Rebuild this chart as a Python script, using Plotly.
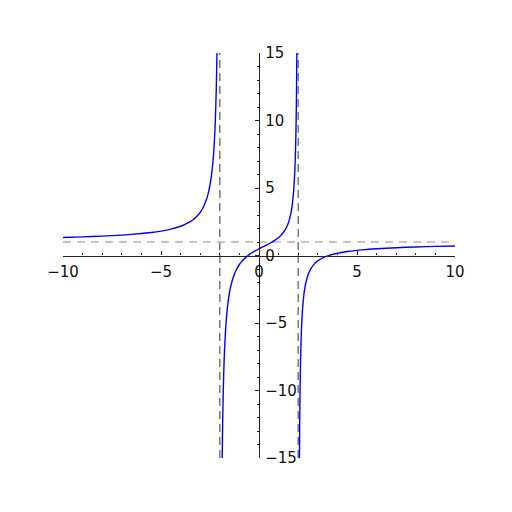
import plotly.graph_objects as go

# Branch left of x = -2
left_x = [-10, -9, -8, -7, -6, -5.5, -5, -4.5, -4, -3.8, -3.6, -3.5, -3.4, -3.2, -3.1, -3,
          -2.9, -2.8, -2.7, -2.6, -2.55, -2.5, -2.45, -2.4, -2.35, -2.325, -2.3, -2.275,
          -2.25, -2.225, -2.2, -2.185, -2.17, -2.16, -2.145]
left_y = [1.333, 1.377, 1.433, 1.511, 1.625, 1.705, 1.810, 1.954, 2.167, 2.284, 2.429, 2.515,
          2.614, 2.859, 3.014, 3.2, 3.426, 3.708, 4.070, 4.551, 4.856, 5.222, 5.669, 6.227,
          6.944, 7.385, 7.899, 8.507, 9.235, 10.126, 11.238, 12.050, 13.004, 13.740, 15.0]

# Branch between x = -2 and x = 2
mid_x = [-1.877, -1.86, -1.85, -1.825, -1.8, -1.775, -1.75, -1.7, -1.65, -1.6, -1.55, -1.5,
         -1.4, -1.3, -1.2, -1.1, -1.0, -0.9, -0.8, -0.6, -0.4, -0.2, 0, 0.2, 0.4, 0.6, 0.8,
         1.0, 1.1, 1.2, 1.3, 1.4, 1.45, 1.5, 1.55, 1.6, 1.65, 1.7, 1.725, 1.75, 1.775, 1.8,
         1.825, 1.85, 1.865, 1.88, 1.89, 1.9, 1.915, 1.923, 1.931]
mid_y = [-15.0, -13.027, -12.07, -10.167, -8.737, -7.624, -6.733, -5.396, -4.440, -3.722,
         -3.163, -2.714, -2.039, -1.554, -1.188, -0.900, -0.667, -0.473, -0.310, -0.044,
         0.167, 0.343, 0.5, 0.646, 0.792, 0.945, 1.119, 1.333, 1.466, 1.625, 1.823, 2.078,
         2.238, 2.429, 2.659, 2.944, 3.309, 3.793, 4.099, 4.467, 4.914, 5.474, 6.191, 7.147,
         7.890, 8.818, 9.577, 10.487, 12.253, 13.476, 15.0]

# Branch right of x = 2
right_x = [2.064, 2.07, 2.08, 2.09, 2.1, 2.125, 2.15, 2.175, 2.2, 2.25, 2.3, 2.35, 2.4, 2.5,
           2.6, 2.75, 2.9, 3, 3.25, 3.5, 4, 4.5, 5, 5.5, 6, 7, 8, 9, 10]
right_y = [-15.0, -13.777, -11.99, -10.600, -9.488, -7.485, -6.149, -5.194, -4.476, -3.471,
           -2.798, -2.317, -1.955, -1.444, -1.101, -0.754, -0.519, -0.4, -0.181, -0.030,
           0.167, 0.292, 0.381, 0.448, 0.5, 0.578, 0.633, 0.675, 0.708]

# Asymptotes
vertical_asymptotes = [-2, 2]
horizontal_asymptotes = [1]

x_range = [-10, 10]
y_range = [-15, 15]
x_ticks = [-10, -5, 0, 5, 10]
y_ticks = [-15, -10, -5, 0, 5, 10, 15]

fig = go.Figure()

for xv in vertical_asymptotes:
    fig.add_trace(go.Scatter(x=[xv, xv], y=y_range, mode="lines",
                             line=dict(color="#6e6e6e", width=1.4, dash="8px,5px"),
                             hoverinfo="skip", showlegend=False))
for yv in horizontal_asymptotes:
    fig.add_trace(go.Scatter(x=x_range, y=[yv, yv], mode="lines",
                             line=dict(color="#b4b4b4", width=1.6, dash="8px,6px"),
                             hoverinfo="skip", showlegend=False))

for xs, ys in [(left_x, left_y), (mid_x, mid_y), (right_x, right_y)]:
    fig.add_trace(go.Scatter(x=xs, y=ys, mode="lines",
                             line=dict(color="#0000ff", width=1.4, shape="spline", smoothing=0.6),
                             showlegend=False))

axis_font = dict(family="DejaVu Sans", size=15, color="#111111")

fig.update_layout(
    width=512, height=512,
    margin=dict(l=55, r=65, t=45, b=62),
    paper_bgcolor="white", plot_bgcolor="white",
    showlegend=False,
    xaxis=dict(range=x_range, anchor="free", position=0.5,
               showgrid=False, zeroline=False,
               showline=True, linecolor="#222222", linewidth=1.3,
               ticks="inside", ticklen=4, tickwidth=1, tickcolor="#222222",
               tickvals=x_ticks, tickfont=axis_font, automargin=False,
               ticklabelstandoff=2,
               minor=dict(ticks="inside", ticklen=2, tickwidth=1, dtick=1,
                          tickcolor="#222222", showgrid=False)),
    yaxis=dict(range=y_range, anchor="free", position=0.5, side="right",
               showgrid=False, zeroline=False,
               showline=True, linecolor="#222222", linewidth=1.3,
               ticks="inside", ticklen=4, tickwidth=1, tickcolor="#222222",
               tickvals=y_ticks, tickfont=axis_font, automargin=False,
               ticklabelstandoff=2,
               minor=dict(ticks="inside", ticklen=2, tickwidth=1, dtick=1,
                          tickcolor="#222222", showgrid=False)),
)

fig.write_html("out.html")
